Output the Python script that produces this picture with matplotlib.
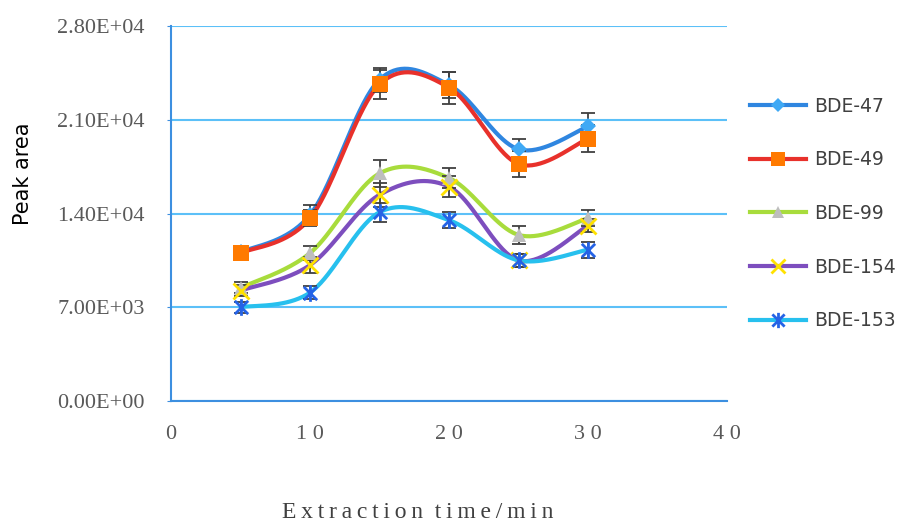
import numpy as np
import matplotlib.pyplot as plt
from matplotlib.path import Path
from matplotlib.lines import Line2D

# extraction time (min)
time_min = [5, 10, 15, 20, 25, 30]

series_names = ["BDE-47", "BDE-49", "BDE-99", "BDE-154", "BDE-153"]

bde47 = [11100, 13900, 24000, 23600, 18800, 20500]
bde49 = [11050, 13650, 23650, 23400, 17700, 19600]
bde99 = [8450, 11050, 17000, 16650, 12400, 13650]
bde154 = [8250, 10150, 15400, 16000, 10500, 13100]
bde153 = [7000, 8100, 14100, 13500, 10500, 11300]

err47 = [300, 700, 900, 1000, 750, 1000]
err49 = [300, 600, 1100, 1200, 1000, 1000]
err99 = [400, 550, 1000, 750, 700, 600]
err154 = [400, 600, 900, 800, 500, 500]
err153 = [400, 500, 700, 600, 500, 600]

values = [bde47, bde49, bde99, bde154, bde153]
errors = [err47, err49, err99, err154, err153]

line_colors = ["#2F86E0", "#E8312B", "#A8DC3C", "#7D4EBE", "#27C0EE"]
marker_colors = ["#3FA9F5", "#FF7A00", "#BEBEBE", "#FFE100", "#2563E6"]

# x-plus-vertical "star" marker
star = Path([(0, -1), (0, 1), (-0.8, -0.8), (0.8, 0.8), (-0.8, 0.8), (0.8, -0.8)],
            [Path.MOVETO, Path.LINETO, Path.MOVETO, Path.LINETO, Path.MOVETO, Path.LINETO])
markers = ["D", "s", "^", "x", star]
msizes = [8, 11, 10, 11, 12]


def smooth(x, y, n=40):
    # piecewise cubic bezier through the points (catmull-rom style)
    p = np.column_stack([x, y]).astype(float)
    p = np.vstack([p[0], p, p[-1]])
    out = []
    for i in range(1, len(p) - 2):
        b0 = p[i]
        b1 = p[i] + (p[i + 1] - p[i - 1]) / 6
        b2 = p[i + 1] - (p[i + 2] - p[i]) / 6
        b3 = p[i + 1]
        t = np.linspace(0, 1, n)[:, None]
        seg = ((1 - t)**3 * b0 + 3 * (1 - t)**2 * t * b1
               + 3 * (1 - t) * t**2 * b2 + t**3 * b3)
        out.append(seg)
    seg = np.vstack(out)
    return seg[:, 0], seg[:, 1]


fig = plt.figure(figsize=(9, 5.21), dpi=100)
ax = fig.add_axes([0.19, 0.2303, 0.618, 0.7197])

serif = "Liberation Serif"
tick_col = "#595959"
blue = "#3C8FE0"

for k in range(5):
    sx, sy = smooth(time_min, values[k])
    ax.plot(sx, sy, color=line_colors[k], lw=3, zorder=2, solid_capstyle="round")
for k in range(5):
    ax.errorbar(time_min, values[k], yerr=errors[k], fmt="none", ecolor="#404040",
                elinewidth=1.3, capsize=5, capthick=1.3, zorder=3)
for k in range(5):
    mew = 2 if k >= 3 else 0
    ax.plot(time_min, values[k], linestyle="none", marker=markers[k], ms=msizes[k],
            color=marker_colors[k], mec=marker_colors[k], mew=mew, zorder=4)

ax.set_xlim(0, 40)
ax.set_ylim(0, 28000)
ax.set_yticks([0, 7000, 14000, 21000, 28000])
ax.set_yticklabels(["0.00E+00", "7.00E+03", "1.40E+04", "2.10E+04", "2.80E+04"],
                   family=serif, fontsize=16, color=tick_col)
ax.set_xticks([0, 10, 20, 30, 40])
ax.set_xticklabels([" ".join(str(v)) for v in [0, 10, 20, 30, 40]],
                   family=serif, fontsize=16, color=tick_col)
ax.tick_params(axis="x", length=0, pad=17)
ax.tick_params(axis="y", length=3, color=blue, pad=16)

ax.grid(axis="y", color="#5CC0F8", lw=1.5, zorder=0)
ax.set_axisbelow(True)
for side in ["top", "right"]:
    ax.spines[side].set_visible(False)
for side in ["left", "bottom"]:
    ax.spines[side].set_color(blue)
    ax.spines[side].set_linewidth(1.5)

ax.set_xlabel("\u2009".join("Extraction time/min").replace("\u2009 \u2009", "  "),
              family=serif, fontsize=17, color="#404040")
ax.xaxis.set_label_coords(0.444, -0.268)
ax.set_ylabel("Peak area", family="DejaVu Sans", fontsize=15, color="black")
ax.yaxis.set_label_coords(-0.248, 0.605)

handles = []
for k in range(5):
    mew = 2 if k >= 3 else 0
    handles.append(Line2D([0], [0], color=line_colors[k], lw=3, marker=markers[k],
                          ms=msizes[k] - 1, mfc=marker_colors[k], mec=marker_colors[k], mew=mew))
leg = fig.legend(handles, series_names, loc="upper left", bbox_to_anchor=(0.825, 0.829),
                 frameon=False, fontsize=13.5, handlelength=3.0, labelspacing=1.85,
                 handletextpad=0.4, borderaxespad=0)
for t in leg.get_texts():
    t.set_color("#404040")

fig.savefig("out.png", dpi=100)
